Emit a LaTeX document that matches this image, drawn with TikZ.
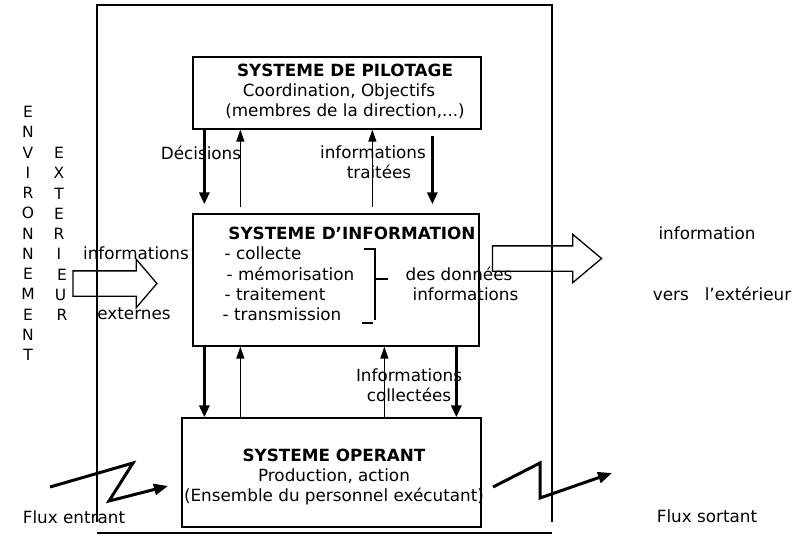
\documentclass[tikz,border=0pt]{standalone}
\usepackage{fontspec}
\setmainfont{DejaVu Sans}
\usepackage{tikz}
\usetikzlibrary{shapes,arrows,arrows.meta}

\begin{document}
\begin{tikzpicture}[x=1pt,y=-1pt,line width=1.3pt,font=\fontsize{16.8}{20}\selectfont]
\tikzstyle{system} = [rectangle, draw, inner sep=0pt, align=center]
\tikzstyle{fat} = [-{Triangle[length=12pt,width=10pt]}, line width=3pt]
\tikzstyle{slim} = [-{Triangle[length=12pt,width=8pt]}, line width=1.2pt]
\tikzstyle{flux} = [-{Triangle[length=14pt,width=11pt]}, line width=3pt, line join=miter]
\tikzstyle{bigarrow} = [single arrow, draw, inner sep=0pt, single arrow head extend=11.5pt]
\tikzstyle{txt} = [inner sep=0pt, align=center]
\useasboundingbox (0,0) rectangle (802,548);

% cadre de l'entreprise
\draw (97,522) -- (97,5) -- (552,5) -- (552,522);
\draw (97,533) -- (552,533);

% les trois systemes
\node[system, minimum width=288pt, minimum height=72pt] (pilot) at (337,93) {};
\node[txt] (pilotText) at (345,91.5)
  {\textbf{SYSTEME DE PILOTAGE}\\\hspace*{-12pt}Coordination, Objectifs\\(membres de la direction,...)};
\node[system, minimum width=286pt, minimum height=132pt] (info) at (336,280) {};
\node[system, minimum width=299pt, minimum height=109pt] (oper) at (331.5,472.5) {};
\node[txt] (operText) at (334,477)
  {\textbf{SYSTEME OPERANT}\\Production, action\\(Ensemble du personnel exécutant)};

% contenu du systeme d'information
\node[txt] (infoTitle) at (352,233) {\textbf{SYSTEME D’INFORMATION}};
\node[txt, anchor=west, align=left, font=\fontsize{16.8}{20.3}\selectfont] (infoList) at (222,284)
  {\hspace{2pt}- collecte\\\hspace{4pt}- mémorisation\\\hspace{2pt}- traitement\\- transmission};
\node[txt, anchor=west, align=left] (infoData) at (405,284) {des données\\\hspace{7pt}informations};
\draw (364,249) -- (375,249) -- (375,320);
\draw (362,323) -- (373,323);
\draw (375,279) -- (388,279);

% flux entre pilotage et information
\draw[fat, shorten >=9pt] ([xshift=12]pilot.south west) -- ([xshift=12]info.north west);
\draw[slim, shorten <=6pt] ([xshift=48]info.north west) -- ([xshift=48]pilot.south west);
\draw[slim, shorten <=6pt] ([xshift=180]info.north west) -- ([xshift=180]pilot.south west);
\draw[fat, shorten <=6pt, shorten >=9pt] ([xshift=240]pilot.south west) -- ([xshift=240]info.north west);
\node[txt] (decisions) at (201,153) {Décisions};
\node[txt] (treated) at (373,162) {informations\\\hspace{12pt}traitées};

% flux entre information et operant
\draw[fat] ([xshift=12]info.south west) -- ([xshift=23]oper.north west);
\draw[slim] ([xshift=59]oper.north west) -- ([xshift=48]info.south west);
\draw[slim] ([xshift=203]oper.north west) -- ([xshift=192]info.south west);
\draw[fat] ([xshift=264]info.south west) -- ([xshift=275]oper.north west);
\node[txt] (collected) at (409,385) {Informations\\collectées};

% environnement exterieur
\node[txt, font=\fontsize{15.5}{20.25}\selectfont] (env) at (28,233.5)
  {E\\N\\V\\I\\R\\O\\N\\N\\E\\M\\E\\N\\T};
\node[txt, font=\fontsize{15.5}{20.25}\selectfont] (ext) at (59,234)
  {E\\X\\T\\E\\R\\I\\\hspace{6pt}E\\\hspace{3pt}U\\\hspace{6pt}R};
\node[bigarrow, minimum height=84pt, single arrow tip angle=99] (inArrow) at (109.5,283.5) {\rule{0pt}{24pt}};
\node[txt] (inTop) at (136,253) {informations};
\node[txt] (inBottom) at (134,314) {externes};

\node[bigarrow, minimum height=109pt, single arrow tip angle=80] (outArrow) at (539.5,258.5) {\rule{0pt}{24pt}};
\node[txt] (outTop) at (707,233) {information};
\node[txt] (outBottom) at (722,294) {vers \ \ l’extérieur};

% flux physiques
\draw[flux] (50,487) -- (133,463) -- (109,501) -- (168,486);
\draw[flux] (493,487) -- (540,463) -- (540,498) -- (612,473);
\node[txt] (fluxIn) at (74,517) {Flux entrant};
\node[txt] (fluxOut) at (707,516) {Flux sortant};
\end{tikzpicture}
\end{document}
